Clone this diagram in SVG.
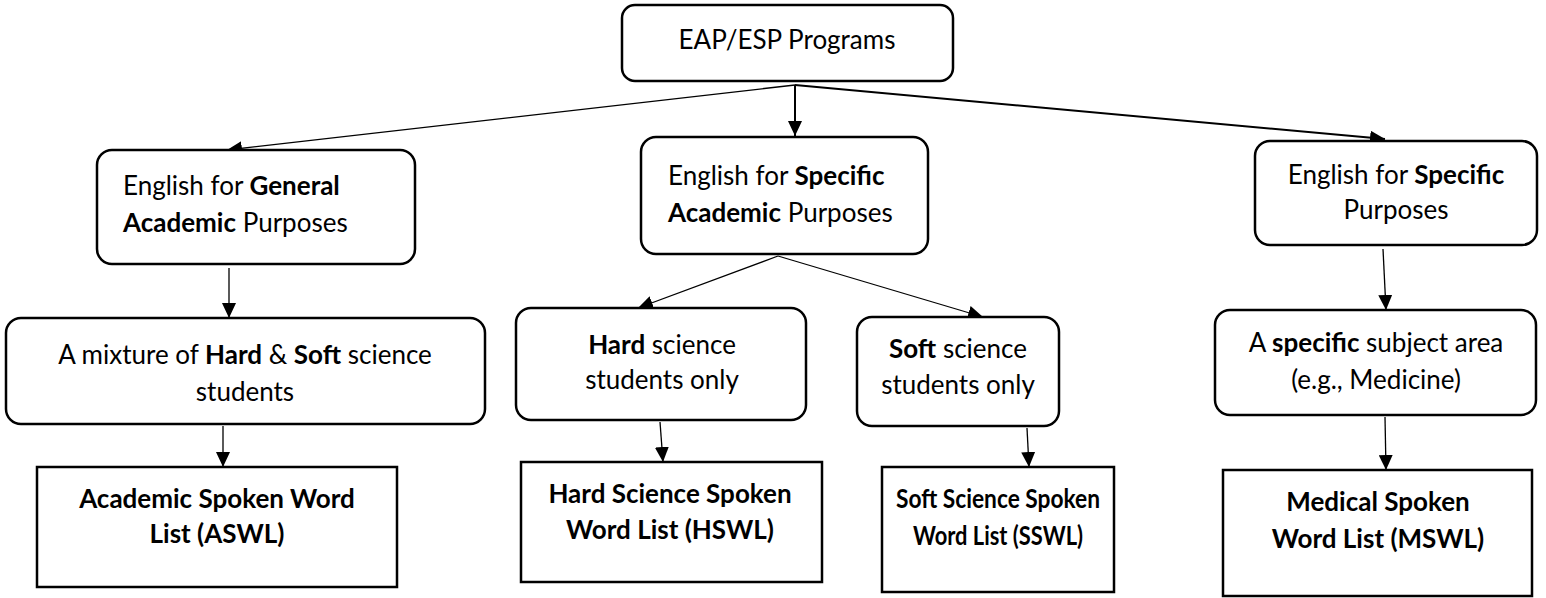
<svg xmlns="http://www.w3.org/2000/svg" width="1546" height="598" viewBox="0 0 1546 598">
<style>
.box{fill:#fff;stroke:#000;stroke-width:2.5}
.t{font-family:Lato,"Open Sans","Liberation Sans",sans-serif;font-size:26px;fill:#000}
.c{text-anchor:middle}
.b{font-weight:bold}
.ln{stroke:#000;stroke-width:1.3;fill:none}
.lt{stroke:#000;stroke-width:2;fill:none}
</style>
<defs>
<marker id="ah" markerUnits="userSpaceOnUse" markerWidth="16" markerHeight="14" refX="15" refY="7" orient="auto">
<path d="M0,0 L15,7 L0,14 Z" fill="#000"/>
</marker>
</defs>
<rect width="1546" height="598" fill="#fff"/>
<g id="connectors">
<line class="ln" x1="795" y1="85" x2="227" y2="150" marker-end="url(#ah)"/>
<line class="lt" x1="795" y1="85" x2="795" y2="136" marker-end="url(#ah)"/>
<line class="lt" x1="795" y1="85" x2="1385" y2="139" marker-end="url(#ah)"/>
<line class="ln" x1="229" y1="268" x2="229" y2="318" marker-end="url(#ah)"/>
<line class="ln" x1="778" y1="256" x2="638" y2="308" marker-end="url(#ah)"/>
<line class="ln" x1="778" y1="256" x2="983" y2="317" marker-end="url(#ah)"/>
<line class="ln" x1="1383" y1="249" x2="1386" y2="310" marker-end="url(#ah)"/>
<line class="ln" x1="223" y1="426" x2="223" y2="467" marker-end="url(#ah)"/>
<line class="ln" x1="660" y1="422" x2="663" y2="462" marker-end="url(#ah)"/>
<line class="ln" x1="1027" y1="428" x2="1029" y2="467" marker-end="url(#ah)"/>
<line class="ln" x1="1385" y1="417" x2="1386" y2="470" marker-end="url(#ah)"/>
</g>
<g id="n-root">
<rect class="box" x="622" y="5" width="331" height="76" rx="13"/>
<text class="t c" x="787" y="49">EAP/ESP Programs</text>
</g>
<g id="n-egap">
<rect class="box" x="97" y="150" width="318" height="114" rx="15"/>
<text class="t" x="123" y="195">English for <tspan class="b">General</tspan></text>
<text class="t" x="123" y="232"><tspan class="b">Academic</tspan> Purposes</text>
</g>
<g id="n-esap">
<rect class="box" x="641" y="137" width="287" height="117" rx="15"/>
<text class="t" x="668" y="185">English for <tspan class="b">Specific</tspan></text>
<text class="t" x="668" y="222"><tspan class="b">Academic</tspan> Purposes</text>
</g>
<g id="n-esp">
<rect class="box" x="1255" y="141" width="282" height="104" rx="15"/>
<text class="t c" x="1396" y="184">English for <tspan class="b">Specific</tspan></text>
<text class="t c" x="1396" y="219">Purposes</text>
</g>
<g id="n-mix">
<rect class="box" x="6" y="318" width="479" height="106" rx="15"/>
<text class="t c" x="245" y="364">A mixture of <tspan class="b">Hard</tspan> &amp; <tspan class="b">Soft</tspan> science</text>
<text class="t c" x="245" y="401">students</text>
</g>
<g id="n-hard">
<rect class="box" x="516" y="308" width="290" height="112" rx="15"/>
<text class="t c" x="662" y="354"><tspan class="b">Hard</tspan> science</text>
<text class="t c" x="662" y="389">students only</text>
</g>
<g id="n-soft">
<rect class="box" x="857" y="317" width="202" height="109" rx="15"/>
<text class="t c" x="958" y="358"><tspan class="b">Soft</tspan> science</text>
<text class="t c" x="958" y="394">students only</text>
</g>
<g id="n-med">
<rect class="box" x="1215" y="310" width="321" height="105" rx="15"/>
<text class="t c" x="1376" y="352">A <tspan class="b">specific</tspan> subject area</text>
<text class="t c" x="1376" y="389">(e.g., Medicine)</text>
</g>
<g id="n-aswl">
<rect class="box" x="37" y="467" width="360" height="120"/>
<text class="t c b" x="217" y="508">Academic Spoken Word</text>
<text class="t c b" x="217" y="543">List (ASWL)</text>
</g>
<g id="n-hswl">
<rect class="box" x="521" y="462" width="301" height="120"/>
<text class="t c b" x="670" y="503">Hard Science Spoken</text>
<text class="t c b" x="670" y="539">Word List (HSWL)</text>
</g>
<g id="n-sswl">
<rect class="box" x="882" y="467" width="232" height="125"/>
<text class="t c b" x="998" y="508" textLength="204" lengthAdjust="spacingAndGlyphs">Soft Science Spoken</text>
<text class="t c b" x="998" y="545" textLength="170" lengthAdjust="spacingAndGlyphs">Word List (SSWL)</text>
</g>
<g id="n-mswl">
<rect class="box" x="1223" y="470" width="309" height="126"/>
<text class="t c b" x="1378" y="511">Medical Spoken</text>
<text class="t c b" x="1378" y="548">Word List (MSWL)</text>
</g>
</svg>
